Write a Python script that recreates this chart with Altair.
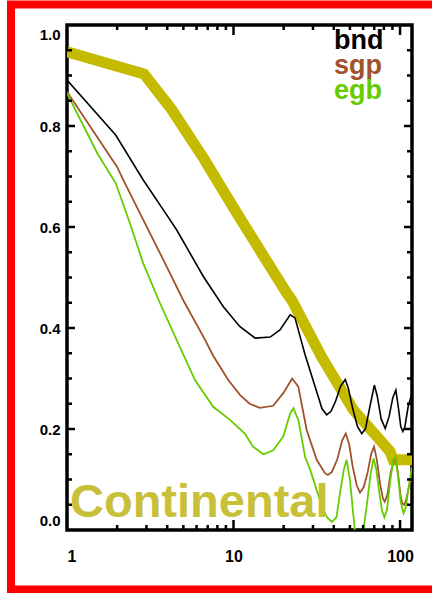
import altair as alt
import pandas as pd

# ---------------- data ----------------
olive_x = [1, 2.9, 4.2, 6.65, 9.93, 14.4, 20.9, 22.4, 33.8, 52.4, 75.9, 87.2, 91, 118]
olive_y = [0.947, 0.903, 0.835, 0.735, 0.64, 0.554, 0.469, 0.455, 0.343, 0.238, 0.178, 0.155, 0.139, 0.139]

bnd_x = [1, 1.96, 2.87, 4.1, 4.56, 6.59, 8.69, 10.9, 13.5, 16.6, 19.0, 21.9, 23.4, 26.9, 31.8, 34.0,
         36.3, 38.5, 41.0, 44.0, 46.9, 49.0, 52.0, 55.5, 58.9, 62.0, 65.5, 70.1, 73.0, 77.0, 81.5,
         86.0, 90.5, 94.4, 98.0, 101.0, 104.0, 107.0, 112.0, 118.0]
bnd_y = [0.891, 0.782, 0.693, 0.617, 0.594, 0.502, 0.442, 0.403, 0.38, 0.382, 0.396, 0.426, 0.42, 0.347,
         0.271, 0.24, 0.228, 0.235, 0.255, 0.285, 0.298, 0.28, 0.24, 0.205, 0.191, 0.2, 0.24, 0.287,
         0.265, 0.22, 0.201, 0.225, 0.262, 0.277, 0.24, 0.205, 0.195, 0.205, 0.245, 0.271]

sgp_x = [1, 2.0, 2.18, 2.87, 3.79, 4.99, 6.59, 7.55, 9.3, 10.96, 12.5, 14.4, 17.3, 19.9, 22.5, 24.5,
         27.5, 31.6, 35.5, 36.9, 39.0, 42.0, 45.0, 47.2, 49.5, 52.0, 55.0, 57.5, 60.5, 64.0, 67.0,
         69.8, 72.5, 76.0, 79.0, 81.0, 84.0, 88.0, 93.6, 97.0, 100.5, 103.0, 106.0, 109.0, 113.0, 118.0]
sgp_y = [0.868, 0.719, 0.693, 0.614, 0.535, 0.455, 0.383, 0.345, 0.297, 0.267, 0.25, 0.242, 0.246,
         0.271, 0.30, 0.284, 0.198, 0.139, 0.112, 0.109, 0.115, 0.14, 0.178, 0.191, 0.17, 0.125, 0.088,
         0.074, 0.085, 0.115, 0.15, 0.165, 0.14, 0.09, 0.062, 0.056, 0.07, 0.115, 0.145, 0.115, 0.07,
         0.053, 0.05, 0.06, 0.085, 0.105]

egb_x = [1, 1.52, 1.96, 2.39, 2.87, 3.62, 4.56, 5.87, 7.55, 9.52, 11.7, 13.1, 15.1, 17.3, 19.9, 21.9,
         22.9, 24.5, 26.9, 28.9, 31.5, 34.0, 36.5, 39.0, 41.5, 43.6, 46.0, 47.8, 50.0, 53.5, 57.0,
         60.2, 63.5, 66.5, 69.3, 72.0, 75.0, 78.0, 80.5, 83.5, 87.5, 91.0, 93.6, 97.0, 101.0, 105.0,
         108.5, 112.0, 118.0]
egb_y = [0.865, 0.746, 0.687, 0.607, 0.528, 0.449, 0.376, 0.297, 0.244, 0.218, 0.191, 0.165, 0.15,
         0.158, 0.185, 0.231, 0.241, 0.218, 0.145, 0.119, 0.08, 0.046, 0.025, 0.016, 0.025, 0.073,
         0.12, 0.139, 0.1, 0.0, -0.04, 0.0, 0.055, 0.11, 0.142, 0.12, 0.075, 0.038, 0.025, 0.04, 0.1,
         0.138, 0.145, 0.11, 0.055, 0.033, 0.045, 0.08, 0.125]

series_names = ["bnd", "sgp", "egb"]
series_colors = ["#000000", "#a0522d", "#66cc00"]
ref_label = "Continental"

x_label_values = [1, 10, 100]
x_major_ticks = [10, 100]
x_minor_ticks = [2, 3, 4, 5, 6, 7, 8, 9, 20, 30, 40, 50, 60, 70, 80, 90]
y_label_values = [0.0, 0.2, 0.4, 0.6, 0.8, 1.0]
y_major_ticks = [0.2, 0.4, 0.6, 0.8]
y_minor_ticks = [0.05, 0.1, 0.15, 0.25, 0.3, 0.35, 0.45, 0.5, 0.55, 0.65, 0.7, 0.75, 0.85, 0.9, 0.95]

for a, b in [(olive_x, olive_y), (bnd_x, bnd_y), (sgp_x, sgp_y), (egb_x, egb_y)]:
    assert len(a) == len(b), (len(a), len(b))

# ---------------- chart ----------------
W, H = 345, 505
FONT = "Liberation Sans"
xs = alt.Scale(type="log", domain=[1, 118], nice=False)
ys = alt.Scale(domain=[0, 1], nice=False, zero=False)

X_AXIS = alt.Axis(values=x_label_values, format="d", ticks=False, tickSize=0, domain=False,
                  grid=False, labelPadding=18, labelFont=FONT, labelFontWeight="bold",
                  labelFontSize=16, labelColor="black", title=None)
Y_AXIS = alt.Axis(values=y_label_values, format=".1f", ticks=False, tickSize=0, domain=False,
                  grid=False, labelPadding=7, labelFont=FONT, labelFontWeight="bold",
                  labelFontSize=15, labelColor="black", labelFlush=True, labelFlushOffset=-2,
                  title=None)


def line_layer(xv, yv, color, width):
    df = pd.DataFrame({"x": xv, "y": yv})
    return alt.Chart(df).mark_line(color=color, strokeWidth=width, clip=True,
                                   strokeJoin="miter").encode(
        x=alt.X("x:Q", scale=xs, axis=X_AXIS),
        y=alt.Y("y:Q", scale=ys, axis=Y_AXIS),
    )


def xtick_layer(vals, length, top):
    df = pd.DataFrame({"v": vals})
    if top:
        yy, yy2 = alt.value(0), alt.value(length)
    else:
        yy, yy2 = alt.value(H), alt.value(H - length)
    return alt.Chart(df).mark_rule(color="black", strokeWidth=2.5).encode(
        x=alt.X("v:Q", scale=xs, axis=X_AXIS), y=yy, y2=yy2)


def ytick_layer(vals, length, right):
    df = pd.DataFrame({"v": vals})
    if right:
        xx, xx2 = alt.value(W), alt.value(W - length)
    else:
        xx, xx2 = alt.value(0), alt.value(length)
    return alt.Chart(df).mark_rule(color="black", strokeWidth=2.5).encode(
        y=alt.Y("v:Q", scale=ys, axis=Y_AXIS), x=xx, x2=xx2)


one = pd.DataFrame({"k": [0]})

border = alt.Chart(one).mark_rect(fillOpacity=0, stroke="#ff0000", strokeWidth=8).encode(
    x=alt.value(-56), x2=alt.value(400), y=alt.value(-20.5), y2=alt.value(564.5))

legend_layers = []
for i, (name, col) in enumerate(zip(series_names, series_colors)):
    legend_layers.append(
        alt.Chart(one).mark_text(align="left", baseline="alphabetic", font=FONT,
                                 fontWeight="bold", fontSize=27, color=col).encode(
            x=alt.value(267), y=alt.value(24 + 25 * i), text=alt.value(name)))

ref_text = alt.Chart(one).mark_text(align="left", baseline="alphabetic", font=FONT,
                                    fontWeight="bold", fontSize=47, color="#c9c03a").encode(
    x=alt.value(3), y=alt.value(492), text=alt.value(ref_label))

layers = [
    line_layer(olive_x, olive_y, "#c4bb00", 11),
    line_layer(bnd_x, bnd_y, series_colors[0], 1.6),
    line_layer(sgp_x, sgp_y, series_colors[1], 1.8),
    line_layer(egb_x, egb_y, series_colors[2], 1.8),
    xtick_layer(x_major_ticks, 10, False),
    xtick_layer(x_minor_ticks, 5, False),
    xtick_layer(x_major_ticks, 10, True),
    xtick_layer(x_minor_ticks, 5, True),
    ytick_layer(y_major_ticks, 8, False),
    ytick_layer(y_minor_ticks, 5, False),
    ytick_layer(y_major_ticks, 8, True),
    ytick_layer(y_minor_ticks, 5, True),
    *legend_layers,
    ref_text,
    border,
]

chart = alt.layer(*layers).properties(
    width=W, height=H, autosize="none",
    padding={"left": 67, "top": 25, "right": 20, "bottom": 63},
    background="white",
).configure_view(stroke="black", strokeWidth=3.5)

chart.save("out.html", embed_options={"renderer": "svg", "actions": False})
